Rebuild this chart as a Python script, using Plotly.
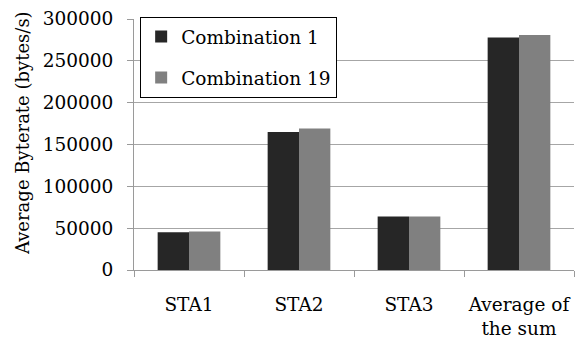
import plotly.graph_objects as go

categories = ["STA1", "STA2", "STA3", "Average of<br>the sum"]
combination_1 = [45000, 165000, 64000, 278000]
combination_19 = [46000, 169000, 64000, 281000]
series_names = ["Combination 1", "Combination 19"]
y_ticks = [0, 50000, 100000, 150000, 200000, 250000, 300000]
y_title = "Average Byterate (bytes/s)"

FONT = "DejaVu Serif"

fig = go.Figure()
fig.add_trace(go.Bar(x=categories, y=combination_1, name=series_names[0],
                     marker=dict(color="#262626", line=dict(width=0)),
                     legendgroup="a"))
fig.add_trace(go.Bar(x=categories, y=combination_19, name=series_names[1],
                     marker=dict(color="#808080", line=dict(width=0)),
                     legendgroup="b"))

fig.update_layout(
    width=583, height=341,
    margin=dict(l=126, r=17, t=11, b=79, autoexpand=False),
    paper_bgcolor="white", plot_bgcolor="white",
    font=dict(family=FONT, color="black", size=18),
    barmode="group", bargap=0.43, bargroupgap=0,
    showlegend=True,
    legend=dict(x=0.014, y=1.008, xanchor="left", yanchor="top",
                bgcolor="white", bordercolor="black", borderwidth=1,
                font=dict(family=FONT, size=18.5, color="black"),
                traceorder="grouped", tracegroupgap=14,
                itemwidth=30),
    annotations=[dict(text=y_title, xref="paper", yref="paper",
                      x=-0.252, y=0.546, xanchor="center", yanchor="middle",
                      textangle=-90, showarrow=False,
                      font=dict(family=FONT, size=18, color="black"))],
)
fig.update_xaxes(
    type="category", showline=True, linecolor="#9a9a9a", linewidth=1,
    ticks="outside", tickson="boundaries", ticklen=6, tickcolor="#9a9a9a",
    tickfont=dict(family=FONT, size=18.5, color="black"),
    tickangle=0,
    ticklabelstandoff=18, automargin=False,
    showgrid=False,
)
fig.update_yaxes(
    range=[0, 300000], tickvals=y_ticks, ticktext=[str(v) for v in y_ticks],
    showline=True, linecolor="#9a9a9a", linewidth=1,
    ticks="outside", ticklen=6, tickcolor="#9a9a9a",
    showgrid=True, gridcolor="#a6a6a6", gridwidth=1,
    zeroline=False, automargin=False,
    ticklabelstandoff=10,
    tickfont=dict(family=FONT, size=18.5, color="black"),
)

fig.write_html("out.html")
